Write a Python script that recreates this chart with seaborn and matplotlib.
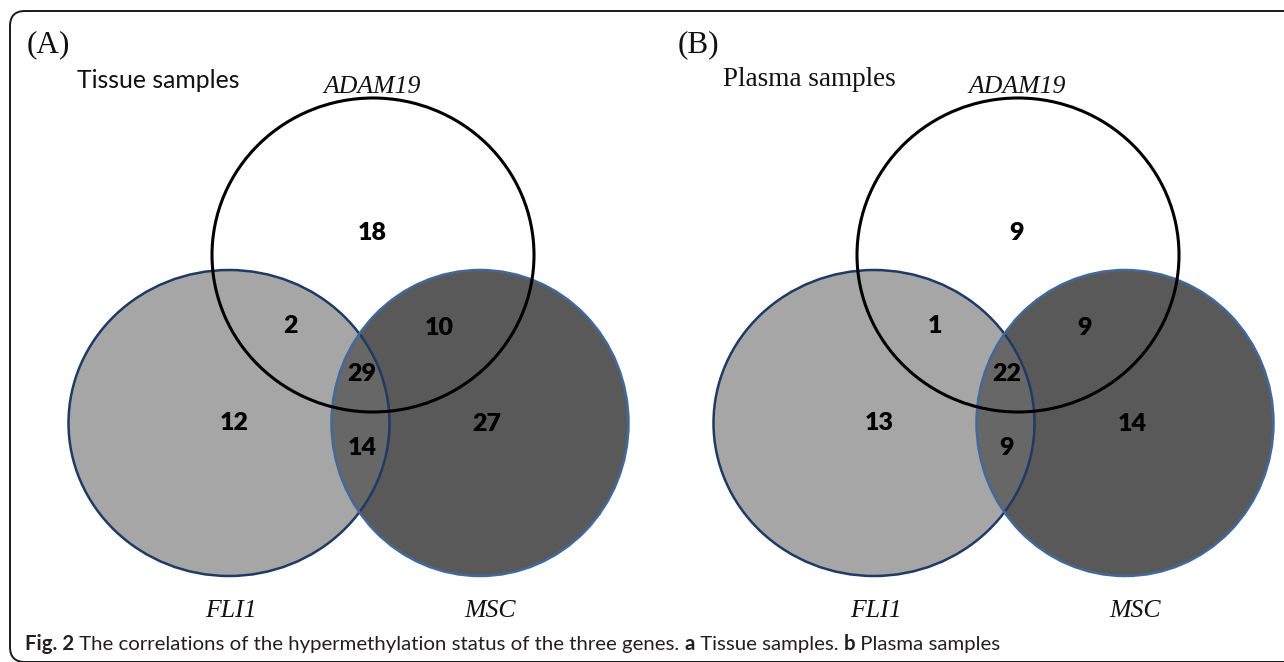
import matplotlib
matplotlib.use("Agg")
import matplotlib.pyplot as plt
from matplotlib.patches import Ellipse, FancyBboxPatch
import seaborn as sns
import pandas as pd

# ---------------- data ----------------
genes = ["ADAM19", "FLI1", "MSC"]
regions = ["ADAM19 only", "ADAM19&FLI1", "ADAM19&MSC", "all three",
           "FLI1 only", "MSC only", "FLI1&MSC"]
tissue_counts = [18, 2, 10, 29, 12, 27, 14]
plasma_counts = [9, 1, 9, 22, 13, 14, 9]
panel_tags = ["(A)", "(B)"]
panel_titles = ["Tissue samples", "Plasma samples"]
caption_parts = [("Fig. 2", "bold"),
                 (" The correlations of the hypermethylation status of the three genes. ", "normal"),
                 ("a", "bold"), (" Tissue samples. ", "normal"),
                 ("b", "bold"), (" Plasma samples", "normal")]

# ---------------- layout (pixel coords, panel A; panel B shifted) ----------------
W, H = 1284, 662
panel_shift = [0, 645]
tag_x = [27, 678]
ell = {  # centre x, centre y, width, height
    "ADAM19": (373, 255, 322, 314),
    "FLI1": (229, 423, 321, 306),
    "MSC": (480, 423, 297, 306),
}
region_pos = {
    "ADAM19 only": (372, 233), "ADAM19&FLI1": (290, 326), "ADAM19&MSC": (439, 328),
    "all three": (362, 374), "FLI1 only": (234, 423), "MSC only": (487, 424),
    "FLI1&MSC": (362, 448),
}
gene_label_pos = {"ADAM19": (372, 93), "FLI1": (231, 617), "MSC": (490, 617)}

sns.set_theme(style="white")
plt.rcParams["font.family"] = ["DejaVu Sans"]

fig = plt.figure(figsize=(W / 100, H / 100), dpi=100)
ax = fig.add_axes([0, 0, 1, 1])
ax.set_xlim(0, W)
ax.set_ylim(H, 0)
ax.axis("off")

# frame
frame = FancyBboxPatch((10, 11), 1400, 651, boxstyle="round,pad=0,rounding_size=15",
                       fc="none", ec="#1a1a1a", lw=1.4, zorder=1)
ax.add_patch(frame)

fli_fc, msc_fc, ovl_fc = "#a6a6a6", "#595959", "#676767"
fli_ec, msc_ec = "#1f3a64", "#41699a"

for p, counts in enumerate([tissue_counts, plasma_counts]):
    dx = panel_shift[p]
    cx, cy, w, h = ell["FLI1"]
    fli = Ellipse((cx + dx, cy), w, h, fc=fli_fc, ec="none", zorder=2)
    ax.add_patch(fli)
    cx, cy, w, h = ell["MSC"]
    msc = Ellipse((cx + dx, cy), w, h, fc=msc_fc, ec="none", zorder=3)
    ax.add_patch(msc)
    # overlap of FLI1 and MSC
    cx, cy, w, h = ell["FLI1"]
    ovl = Ellipse((cx + dx, cy), w, h, fc=ovl_fc, ec="none", zorder=4)
    ax.add_patch(ovl)
    ovl.set_clip_path(msc)
    # outlines
    cx, cy, w, h = ell["FLI1"]
    ax.add_patch(Ellipse((cx + dx, cy), w, h, fc="none", ec=fli_ec, lw=1.8, zorder=5))
    cx, cy, w, h = ell["MSC"]
    ax.add_patch(Ellipse((cx + dx, cy), w, h, fc="none", ec=msc_ec, lw=1.8, zorder=5))
    cx, cy, w, h = ell["ADAM19"]
    ax.add_patch(Ellipse((cx + dx, cy), w, h, fc="none", ec="black", lw=2.2, zorder=6))

    df = pd.DataFrame({"region": regions, "count": counts})
    for _, r in df.iterrows():
        x, y = region_pos[r["region"]]
        ax.text(x + dx, y, str(r["count"]), ha="center", va="center",
                fontsize=18, fontweight="heavy", family=["Lato", "DejaVu Sans"],
                color="black", zorder=7)

    for g in genes:
        x, y = gene_label_pos[g]
        ax.text(x + dx, y, g, ha="center", va="baseline", fontsize=18.5,
                style="italic", family=["Liberation Serif"], color="#111111", zorder=7)

    ax.text(tag_x[p], 52, panel_tags[p], ha="left", va="baseline", fontsize=22.5,
            family=["Liberation Serif"], color="#111111", zorder=7)

ax.text(77, 88, panel_titles[0], ha="left", va="baseline", fontsize=17.8,
        family=["Lato", "DejaVu Sans"], color="#111111", zorder=7)
ax.text(723, 86, panel_titles[1], ha="left", va="baseline", fontsize=19.5,
        family=["Liberation Serif"], color="#111111", zorder=7)

# caption with mixed weights
fig.canvas.draw()
renderer = fig.canvas.get_renderer()
x = 25
for txt, wt in caption_parts:
    t = ax.text(x, 650, txt, ha="left", va="baseline", fontsize=14.7,
                fontweight=wt, family=["Lato", "DejaVu Sans"], color="#231f20", zorder=7)
    bb = t.get_window_extent(renderer=renderer)
    x += bb.width * (W / fig.bbox.width)

fig.savefig("out.png", dpi=100)
